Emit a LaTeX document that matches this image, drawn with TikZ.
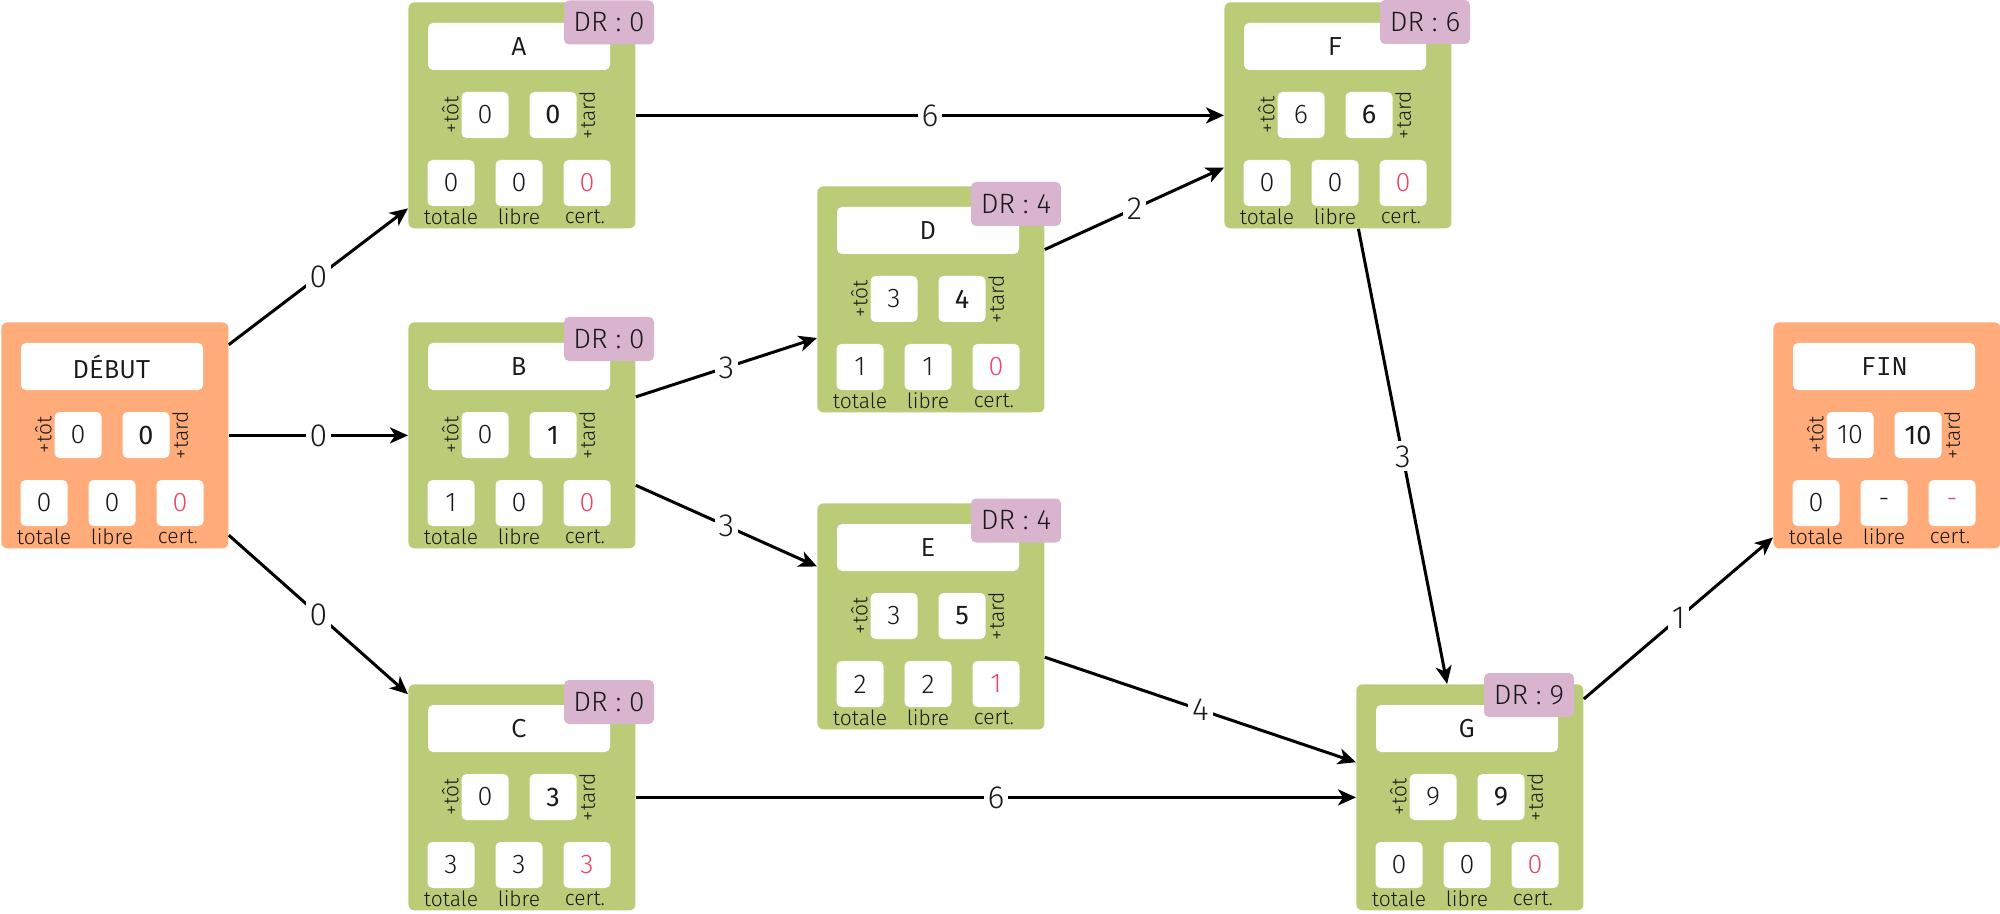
\documentclass[tikz,border=0pt]{standalone}
\usepackage{fontspec}
\setmainfont{Fira Sans Light}[BoldFont={Fira Sans}]
\IfFontExistsTF{Fira Mono}
  {\newfontfamily\titrefont{Fira Mono}}
  {\newfontfamily\titrefont{DejaVu Sans Mono}[Scale=0.95]}
\usetikzlibrary{arrows.meta,calc}

\definecolor{vertbox}{HTML}{BACC78}
\definecolor{saumon}{HTML}{FFAB7A}
\definecolor{mauve}{HTML}{D8B4CE}
\definecolor{rouge}{HTML}{E84868}
\definecolor{texte}{HTML}{1A1A1A}

\tikzset{
  tachebox/.style={rounded corners=3pt,minimum width=113.5pt,minimum height=113pt,inner sep=0pt,anchor=north west},
  titlebox/.style={fill=white,rounded corners=2.5pt,minimum width=91pt,minimum height=23.5pt,inner sep=0pt,text=texte,font=\titrefont\fontsize{13}{14}\selectfont},
  cell/.style={fill=white,rounded corners=2.5pt,minimum width=23.5pt,minimum height=23pt,inner sep=0pt,text=texte,font=\fontsize{13.5}{14}\selectfont},
  lbl/.style={inner sep=1pt,text=texte,font=\fontsize{10.5}{11}\selectfont},
  drbox/.style={fill=mauve,rounded corners=2.5pt,minimum width=45pt,minimum height=22pt,inner sep=0pt,text=texte,font=\fontsize{14}{15}\selectfont},
  fleche/.style={line width=1.5pt,-{Stealth[length=9pt,width=8pt,inset=2.5pt]}},
  poids/.style={fill=white,inner sep=2pt,text=texte,font=\fontsize{16}{17}\selectfont},
}

% name, top-left corner, colour, title, +tot, +tard, totale, libre, cert.
\newcommand{\tache}[9]{%
  \node[tachebox,fill=#3] (#1) at (#2) {};
  \node[titlebox] (#1-t) at ($(#1.north west)+(111,44.5)$) {#4};
  \node[cell] (#1-tot) at ($(#1.north west)+(77,113)$) {#5};
  \node[cell,font=\bfseries\fontsize{13.5}{14}\selectfont] (#1-tard) at ($(#1.north west)+(145,113)$) {#6};
  \node[cell] (#1-tl) at ($(#1.north west)+(43,181)$) {#7};
  \node[cell] (#1-lb) at ($(#1.north west)+(111,181)$) {#8};
  \node[cell,text=rouge] (#1-ct) at ($(#1.north west)+(179,181)$) {#9};
  \node[lbl,rotate=90,anchor=south] at (#1-tot.west) {+tôt};
  \node[lbl,rotate=90,anchor=north] at (#1-tard.east) {+tard};
  \node[lbl] at ($(#1-tl)+(0,34)$) {totale};
  \node[lbl] at ($(#1-lb)+(0,34)$) {libre};
  \node[lbl] at ($(#1-ct)+(-2,34)$) {cert.};
}
% name, offset of the badge, value
\newcommand{\dr}[3]{%
  \node[drbox] (#1-dr) at ($(#1.north west)+(#2)$) {DR : #3};
}

\begin{document}
\begin{tikzpicture}[x=0.5pt,y=-0.5pt]
  \useasboundingbox (0,0) rectangle (2000,914);

  \tache{debut}{1,322}{saumon}{DÉBUT}{0}{0}{0}{0}{0}
  \tache{A}{408,2}{vertbox}{A}{0}{0}{0}{0}{0}
  \tache{B}{408,322}{vertbox}{B}{0}{1}{1}{0}{0}
  \tache{C}{408,684}{vertbox}{C}{0}{3}{3}{3}{3}
  \tache{D}{817,186}{vertbox}{D}{3}{4}{1}{1}{0}
  \tache{E}{817,503}{vertbox}{E}{3}{5}{2}{2}{1}
  \tache{F}{1224,2}{vertbox}{F}{6}{6}{0}{0}{0}
  \tache{G}{1356,684}{vertbox}{G}{9}{9}{0}{0}{0}
  \tache{fin}{1773,322}{saumon}{FIN}{10}{10}{0}{-}{-}

  \dr{A}{201,20.5}{0}
  \dr{B}{201,17}{0}
  \dr{C}{201,18}{0}
  \dr{D}{199,18}{4}
  \dr{E}{199,17.5}{4}
  \dr{F}{201,20}{6}
  \dr{G}{173,11}{9}

  % liens
  \draw[fleche] ($(debut.north east)!0.1!(debut.south east)$) -- node[poids]{0} ($(A.north west)!0.91!(A.south west)$);
  \draw[fleche] (debut) -- node[poids]{0} (B);
  \draw[fleche] ($(debut.north east)!0.94!(debut.south east)$) -- node[poids]{0} ($(C.north west)!0.045!(C.south west)$);
  \draw[fleche] (A) -- node[poids]{6} (F);
  \draw[fleche] ($(B.north east)!0.33!(B.south east)$) -- node[poids]{3} ($(D.north west)!0.67!(D.south west)$);
  \draw[fleche] ($(B.north east)!0.72!(B.south east)$) -- node[poids]{3} ($(E.north west)!0.28!(E.south west)$);
  \draw[fleche] (C) -- node[poids]{6} (G);
  \draw[fleche] ($(D.north east)!0.28!(D.south east)$) -- node[poids]{2} ($(F.north west)!0.73!(F.south west)$);
  \draw[fleche] ($(F.south west)!0.59!(F.south east)$) -- node[poids]{3} ($(G.north west)!0.40!(G.north east)$);
  \draw[fleche] ($(E.north east)!0.68!(E.south east)$) -- node[poids]{4} ($(G.north west)!0.345!(G.south west)$);
  \draw[fleche] ($(G.north east)!0.066!(G.south east)$) -- node[poids]{1} ($(fin.north west)!0.95!(fin.south west)$);
\end{tikzpicture}
\end{document}
